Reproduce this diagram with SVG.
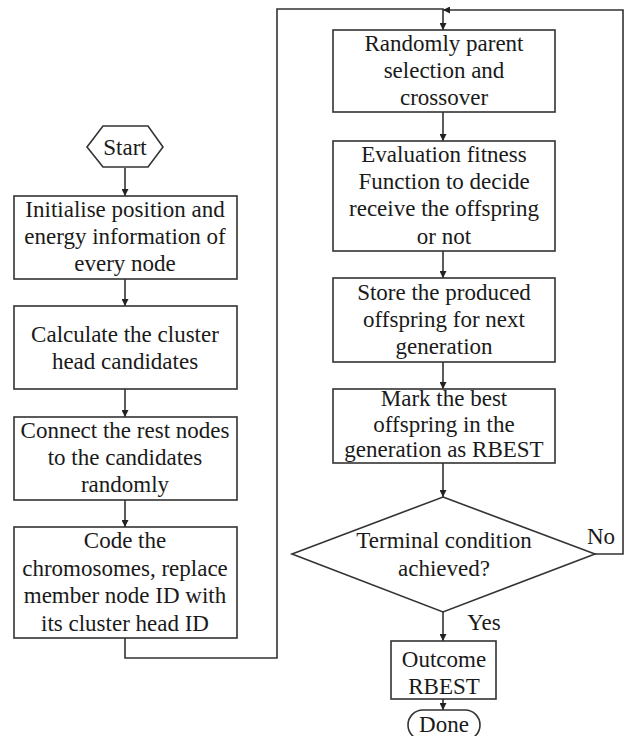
<svg xmlns="http://www.w3.org/2000/svg" width="627" height="736" viewBox="0 0 627 736">
<defs>
<marker id="arr" viewBox="0 0 10 10" refX="10" refY="5" markerWidth="7" markerHeight="7" markerUnits="userSpaceOnUse" orient="auto"><path d="M0,0 L10,5 L0,10 z" fill="#222"/></marker>
<style>
.s{fill:#fff;stroke:#333;stroke-width:1.6}
.c{fill:none;stroke:#333;stroke-width:1.6}
.t{font-family:'Liberation Serif','Times New Roman',serif;font-size:23px;fill:#1a1a1a;text-anchor:middle}
</style>
</defs>
<rect width="627" height="736" fill="#fff"/>
<g id="connectors">
<line class="c" x1="125" y1="168" x2="125" y2="196" marker-end="url(#arr)"/>
<line class="c" x1="125" y1="279" x2="125" y2="306" marker-end="url(#arr)"/>
<line class="c" x1="125" y1="389" x2="125" y2="417" marker-end="url(#arr)"/>
<line class="c" x1="125" y1="500" x2="125" y2="527" marker-end="url(#arr)"/>
<polyline class="c" points="125,638 125,658 277,658 277,9 443,9 443,30" marker-end="url(#arr)"/>
<polyline class="c" points="595,554 623,554 623,10 443,10" marker-end="url(#arr)"/>
<line class="c" x1="443" y1="112" x2="443" y2="141" marker-end="url(#arr)"/>
<line class="c" x1="443" y1="251" x2="443" y2="278" marker-end="url(#arr)"/>
<line class="c" x1="443" y1="362" x2="443" y2="389" marker-end="url(#arr)"/>
<line class="c" x1="443" y1="463" x2="443" y2="497" marker-end="url(#arr)"/>
<line class="c" x1="443" y1="612" x2="443" y2="641" marker-end="url(#arr)"/>
<line class="c" x1="443" y1="699" x2="443" y2="710" marker-end="url(#arr)"/>
<text class="t" x="601" y="544">No</text>
<text class="t" x="484" y="630">Yes</text>
</g>
<g id="start">
<polygon class="s" points="87,147 103,126 148,126 163,147 148,167 103,167"/>
<text class="t" x="125" y="155">Start</text>
</g>
<g id="init">
<rect class="s" x="14" y="196" width="223" height="83"/>
<text class="t" x="125" y="217">Initialise position and</text>
<text class="t" x="125" y="244">energy information of</text>
<text class="t" x="125" y="271">every node</text>
</g>
<g id="calc">
<rect class="s" x="14" y="306" width="223" height="83"/>
<text class="t" x="125" y="342">Calculate the cluster</text>
<text class="t" x="125" y="369">head candidates</text>
</g>
<g id="connect">
<rect class="s" x="14" y="417" width="223" height="83"/>
<text class="t" x="125" y="438">Connect the rest nodes</text>
<text class="t" x="125" y="465">to the candidates</text>
<text class="t" x="125" y="492">randomly</text>
</g>
<g id="code">
<rect class="s" x="14" y="527" width="223" height="111"/>
<text class="t" x="125" y="548">Code the</text>
<text class="t" x="125" y="576">chromosomes, replace</text>
<text class="t" x="125" y="603">member node ID with</text>
<text class="t" x="125" y="631">its cluster head ID</text>
</g>
<g id="parent">
<rect class="s" x="333" y="30" width="222" height="82"/>
<text class="t" x="444" y="51">Randomly parent</text>
<text class="t" x="444" y="78">selection and</text>
<text class="t" x="444" y="105">crossover</text>
</g>
<g id="eval">
<rect class="s" x="333" y="141" width="222" height="110"/>
<text class="t" x="444" y="162">Evaluation fitness</text>
<text class="t" x="444" y="189">Function to decide</text>
<text class="t" x="444" y="216">receive the offspring</text>
<text class="t" x="444" y="244">or not</text>
</g>
<g id="store">
<rect class="s" x="333" y="278" width="222" height="84"/>
<text class="t" x="444" y="300">Store the produced</text>
<text class="t" x="444" y="327">offspring for next</text>
<text class="t" x="444" y="354">generation</text>
</g>
<g id="mark">
<rect class="s" x="333" y="389" width="222" height="74"/>
<text class="t" x="444" y="406">Mark the best</text>
<text class="t" x="444" y="432">offspring in the</text>
<text class="t" x="444" y="457">generation as RBEST</text>
</g>
<g id="terminal">
<polygon class="s" points="443,497 595,554 443,612 292,554"/>
<text class="t" x="444" y="548">Terminal condition</text>
<text class="t" x="444" y="576">achieved?</text>
</g>
<g id="outcome">
<rect class="s" x="391" y="641" width="105" height="58"/>
<text class="t" x="444" y="667">Outcome</text>
<text class="t" x="444" y="694">RBEST</text>
</g>
<g id="done">
<rect class="s" x="408" y="710" width="72" height="30" rx="15" ry="15"/>
<text class="t" x="444" y="732">Done</text>
</g>
</svg>
